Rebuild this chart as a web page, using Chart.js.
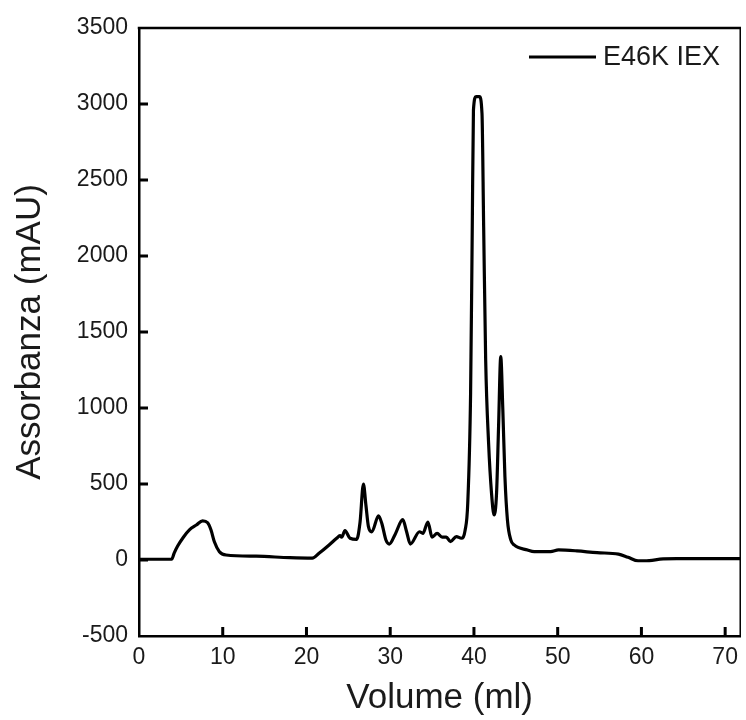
<!DOCTYPE html>
<html lang="it">
  <head>
    <meta charset="UTF-8" />
    <title>E46K IEX</title>
    <style>
      html, body { margin: 0; padding: 0; background: #fff; }
      #wrap { width: 746px; height: 720px; }
    </style>
  </head>
  <body>
    <div id="wrap">
      <canvas id="myChart" width="746" height="720"></canvas>
    </div>
    <script src="https://cdn.jsdelivr.net/npm/chart.js@4.4.1/dist/chart.umd.min.js"></script>
    <script>
      // volume (ml) and absorbance (mAU)
      const volume = [
        0, 3.9, 4.2, 4.6, 5.3, 6.05, 6.85, 7.6, 8.2, 8.6, 9.0, 9.6, 10.4, 14, 18, 20.7,
        21.5, 22.7, 23.6, 24.0, 24.2, 24.6, 25.2, 26.0, 26.4, 26.8, 27.1, 27.4, 27.8,
        28.6, 29.0, 29.5, 29.9, 30.6, 31.5, 31.95, 32.4, 33.5, 33.9, 34.5, 35.0, 35.6,
        36.2, 36.7, 37.2, 37.9, 38.5, 38.95, 39.26, 39.6, 39.8, 39.94, 40.25, 40.65,
        40.96, 41.16, 41.4, 41.75, 42.1, 42.4, 42.7, 42.94, 43.2, 43.45, 43.7, 44.0,
        44.4, 44.8, 46.4, 47.2, 49.15, 50.1, 52.3, 54.7, 57.26, 58.4, 59.6, 60.4, 62.6,
        64.2, 72
      ];
      const absorbance = [
        5, 5, 45, 90, 150, 200, 230, 258, 245, 197, 120, 55, 33, 25, 15, 12,
        44, 99, 143, 160, 150, 193, 143, 136, 250, 500, 360, 219, 185,
        290, 240, 130, 105, 170, 265, 188, 105, 186, 175, 250, 150, 175,
        150, 150, 121, 154, 143, 197, 373, 1097, 2193, 2960, 3048, 3048,
        2939, 2193, 1316, 768, 439, 296, 439, 877, 1338, 987, 548, 263,
        132, 99, 66, 55, 55, 66, 60, 48, 39, 18, -5, -5, 7,
        9, 9
      ];
      const xTickValues = [0, 10, 20, 30, 40, 50, 60, 70];
      const yTickValues = [-500, 0, 500, 1000, 1500, 2000, 2500, 3000, 3500];
      const seriesLabel = "E46K IEX";
      const xTitle = "Volume (ml)";
      const yTitle = "Assorbanza (mAU)";

      const points = volume.map((v, i) => ({ x: v, y: absorbance[i] }));
      const FONT = "'Liberation Sans', Arial, sans-serif";
      const TICK_LEN = 9;

      // box on top/right, inward tick marks, legend inside plot
      const frameAndTicks = {
        id: "frameAndTicks",
        afterDraw(chart) {
          const { ctx, chartArea: a } = chart;
          const xs = chart.scales.x, ys = chart.scales.y;
          ctx.save();
          ctx.fillStyle = "#000";
          // top and right frame
          ctx.fillRect(a.left - 1.25, a.top - 1.25, a.right - a.left + 2, 2.5);
          ctx.fillRect(a.right - 0.75, a.top, 1.5, a.bottom - a.top);
          // ticks pointing into the plot
          for (let i = 1; i < xTickValues.length; i++) {
            const px = xs.getPixelForValue(xTickValues[i]);
            ctx.fillRect(px - 1.5, a.bottom - TICK_LEN, 3, TICK_LEN);
          }
          for (let i = 1; i < yTickValues.length - 1; i++) {
            const py = ys.getPixelForValue(yTickValues[i]);
            ctx.fillRect(a.left, py - 1.5, TICK_LEN, 3);
          }

          // legend
          const ds = chart.data.datasets[0];
          ctx.fillRect(529, 55.5, 67, 3);
          ctx.fillStyle = "#1a1a1a";
          ctx.font = "27px " + FONT;
          ctx.textBaseline = "middle";
          ctx.textAlign = "left";
          ctx.fillText(ds.label, 603, 58);
          ctx.restore();
        },
      };

      const ctx = document.getElementById("myChart").getContext("2d");
      const myChart = new Chart(ctx, {
        type: "line",
        data: {
          datasets: [
            {
              label: seriesLabel,
              data: points,
              borderColor: "#000",
              borderWidth: 3.2,
              pointRadius: 0,
              cubicInterpolationMode: "monotone",
              fill: false,
            },
          ],
        },
        options: {
          responsive: false,
          animation: false,
          layout: { padding: { top: 28, right: 2, bottom: 0, left: 0 } },
          plugins: {
            legend: { display: false },
            tooltip: { enabled: false },
          },
          scales: {
            x: {
              type: "linear",
              min: 0,
              max: 71.8,
              afterBuildTicks(scale) {
                scale.ticks = xTickValues.map((v) => ({ value: v }));
              },
              grid: { display: false, drawTicks: false },
              border: { display: true, color: "#000", width: 2.5 },
              ticks: {
                maxRotation: 0,
                autoSkip: false,
                padding: 8,
                color: "#1a1a1a",
                font: { family: FONT, size: 23 },
                callback: (v) => String(v),
              },
              title: {
                display: true,
                text: xTitle,
                color: "#1a1a1a",
                padding: { top: 0, bottom: 1 },
                font: { family: FONT, size: 35 },
              },
              afterFit(scale) {
                scale.height = 84;
              },
            },
            y: {
              min: -500,
              max: 3500,
              afterBuildTicks(scale) {
                scale.ticks = yTickValues.map((v) => ({ value: v }));
              },
              grid: { display: false, drawTicks: false },
              border: { display: true, color: "#000", width: 2.5 },
              ticks: {
                autoSkip: false,
                padding: 11,
                color: "#1a1a1a",
                font: { family: FONT, size: 23 },
                callback: (v) => String(v),
              },
              title: {
                display: true,
                text: yTitle,
                color: "#1a1a1a",
                padding: { top: 9, bottom: 0 },
                font: { family: FONT, size: 35 },
              },
              afterFit(scale) {
                scale.width = 139;
              },
            },
          },
        },
        plugins: [frameAndTicks],
      });
    </script>
  </body>
</html>
